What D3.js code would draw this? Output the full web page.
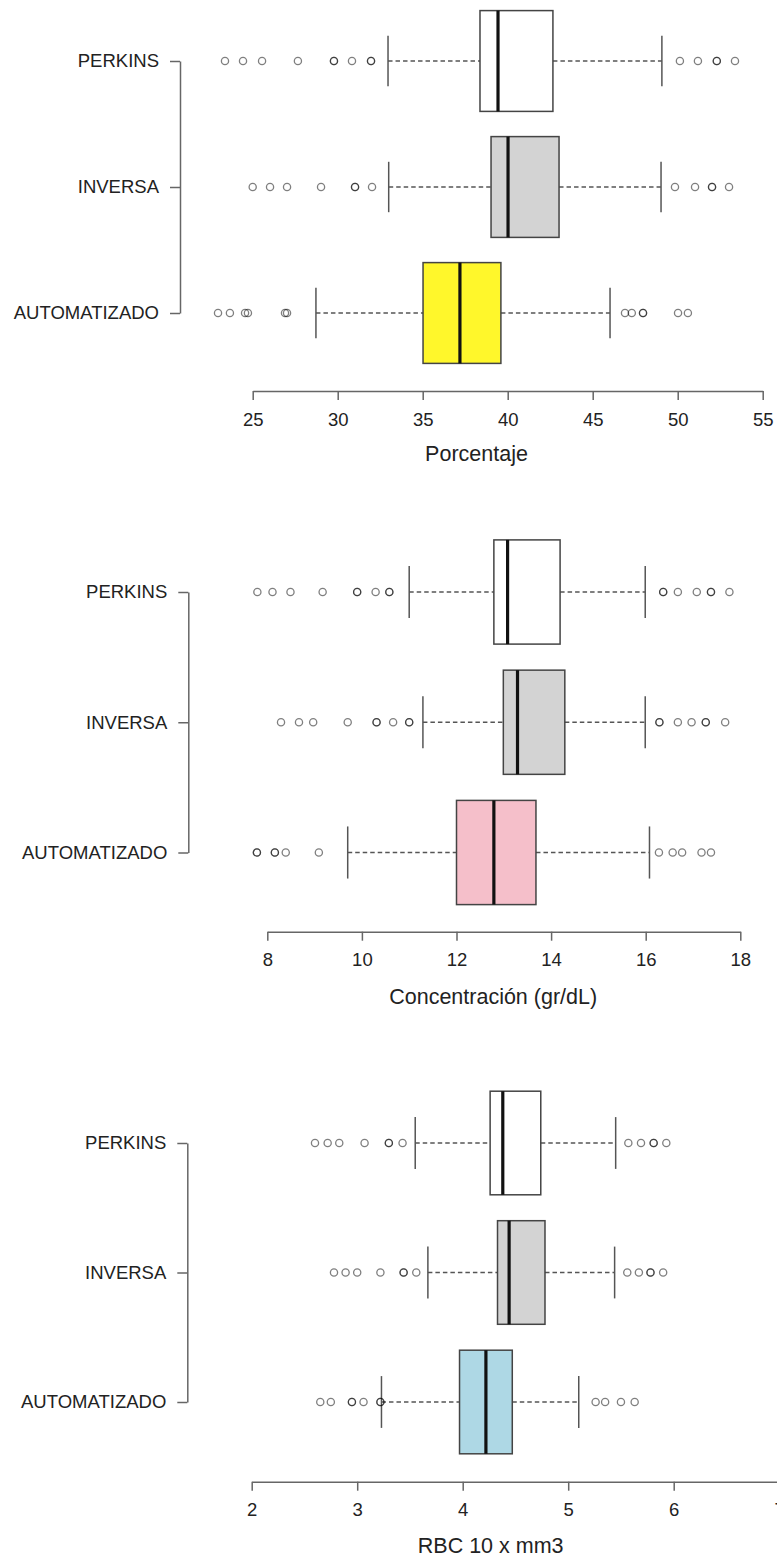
<!DOCTYPE html>
<html>
<head>
<meta charset="utf-8">
<script src="https://cdn.jsdelivr.net/npm/d3@7"></script>
<style>
  body { margin: 0; background: #fff; }
  svg text { font-family: "Liberation Sans", Arial, Helvetica, sans-serif; fill: #222; }
</style>
</head>
<body>
<svg id="chart" width="777" height="1559"></svg>
<script>
const categories = ["PERKINS", "INVERSA", "AUTOMATIZADO"];

// each row: [lower whisker, Q1, median, Q3, upper whisker]
const hctStats = [
  [32.96, 38.37, 39.43, 42.66, 49.07],
  [33.0, 39.02, 40.02, 43.02, 49.02],
  [28.72, 35.02, 37.19, 39.6, 46.02]
];
// repeated values are points drawn twice (they look darker)
const hctOutliers = [
  [23.37, 24.43, 25.55, 27.66, 29.78, 29.78, 30.84, 31.96, 31.96, 50.13, 51.19, 52.3, 52.3, 53.37],
  [25.0, 26.02, 27.02, 29.02, 31.02, 31.02, 32.02, 49.84, 51.02, 52.02, 52.02, 53.02],
  [22.96, 23.66, 24.55, 24.72, 26.9, 27.02, 46.9, 47.3, 47.96, 47.96, 50.02, 50.6]
];
const hctTicks = [25, 30, 35, 40, 45, 50, 55];

const hbStats = [
  [11.0, 12.79, 13.08, 14.19, 15.99],
  [11.29, 12.99, 13.29, 14.29, 15.99],
  [9.70, 12.0, 12.79, 13.68, 16.08]
];
const hbOutliers = [
  [7.79, 8.11, 8.49, 9.17, 9.9, 9.9, 10.29, 10.58, 10.58, 16.37, 16.37, 16.68, 17.08, 17.38, 17.38, 17.77],
  [8.29, 8.67, 8.97, 9.70, 10.31, 10.31, 10.66, 11.0, 11.0, 16.29, 16.29, 16.68, 16.97, 17.27, 17.27, 17.68],
  [7.78, 7.78, 8.16, 8.16, 8.39, 9.09, 16.28, 16.57, 16.77, 17.18, 17.38]
];
const hbTicks = [8, 10, 12, 14, 16, 18];

const rbcStats = [
  [3.55, 4.26, 4.38, 4.74, 5.45],
  [3.67, 4.33, 4.44, 4.78, 5.44],
  [3.23, 3.97, 4.22, 4.47, 5.10]
];
const rbcOutliers = [
  [2.60, 2.72, 2.83, 3.07, 3.30, 3.30, 3.43, 5.57, 5.69, 5.81, 5.81, 5.93],
  [2.78, 2.89, 3.00, 3.22, 3.44, 3.44, 3.56, 5.56, 5.67, 5.78, 5.78, 5.90],
  [2.65, 2.75, 2.95, 2.95, 3.06, 3.22, 3.22, 5.26, 5.35, 5.50, 5.63]
];
const rbcTicks = [2, 3, 4, 5, 6, 7];

const hctFills = ["#ffffff", "#d3d3d3", "#fff72b"];
const hbFills = ["#ffffff", "#d3d3d3", "#f5bfca"];
const rbcFills = ["#ffffff", "#d3d3d3", "#aed8e5"];

const panels = [
  { stats: hctStats, outliers: hctOutliers, ticks: hctTicks, fills: hctFills, title: "Porcentaje",
    xRange: [252.7, 762.7], yRange: [61, 313], axisY: 391, bracketX: 180, titleY: 460.7 },
  { stats: hbStats, outliers: hbOutliers, ticks: hbTicks, fills: hbFills, title: "Concentración (gr/dL)",
    xRange: [267.3, 740.3], yRange: [592, 852.5], axisY: 931.7, bracketX: 188.3, titleY: 1004 },
  { stats: rbcStats, outliers: rbcOutliers, ticks: rbcTicks, fills: rbcFills, title: "RBC 10 x mm3",
    xRange: [251.7, 779.2], yRange: [1143, 1402], axisY: 1481.7, bracketX: 187.3, titleY: 1552.7 }
];

const svg = d3.select("#chart");

panels.forEach(function(p) {
  const x = d3.scaleLinear()
    .domain([p.ticks[0], p.ticks[p.ticks.length - 1]])
    .range(p.xRange);
  const y = d3.scalePoint()
    .domain(categories)
    .range(p.yRange);
  const half = y.step() * 0.4;
  const capHalf = y.step() * 0.2;

  const g = svg.append("g");

  // bottom axis
  const xAxis = g.append("g")
    .attr("transform", `translate(0,${p.axisY})`)
    .call(d3.axisBottom(x).tickValues(p.ticks).tickFormat(d3.format("d"))
      .tickSize(9).tickSizeOuter(0).tickPadding(12.5));
  xAxis.selectAll("path, line").attr("stroke", "#666").attr("stroke-width", 1.5);
  xAxis.selectAll("text").style("font-size", "18.5px").attr("fill", "#222");

  // left axis (the bracket)
  const yAxis = g.append("g")
    .attr("transform", `translate(${p.bracketX},0)`)
    .call(d3.axisLeft(y).tickSize(10).tickSizeOuter(0).tickPadding(11));
  yAxis.selectAll("path, line").attr("stroke", "#666").attr("stroke-width", 1.5);
  yAxis.selectAll("text").style("font-size", "18.5px").attr("fill", "#222");

  // axis title centred on the data extent
  const all = d3.merge(p.stats.concat(p.outliers));
  g.append("text")
    .attr("x", x((d3.min(all) + d3.max(all)) / 2))
    .attr("y", p.titleY)
    .attr("text-anchor", "middle")
    .style("font-size", "21.5px")
    .text(p.title);

  const boxes = g.selectAll(".box")
    .data(categories.map(function(c, i) { return { name: c, s: p.stats[i], out: p.outliers[i], fill: p.fills[i] }; }))
    .enter().append("g")
    .attr("class", "box");

  // whiskers
  boxes.append("line")
    .attr("x1", d => x(d.s[0])).attr("x2", d => x(d.s[1]))
    .attr("y1", d => y(d.name)).attr("y2", d => y(d.name))
    .attr("stroke", "#555").attr("stroke-width", 1.4).attr("stroke-dasharray", "4.5,3");
  boxes.append("line")
    .attr("x1", d => x(d.s[3])).attr("x2", d => x(d.s[4]))
    .attr("y1", d => y(d.name)).attr("y2", d => y(d.name))
    .attr("stroke", "#555").attr("stroke-width", 1.4).attr("stroke-dasharray", "4.5,3");
  // caps
  [0, 4].forEach(function(k) {
    boxes.append("line")
      .attr("x1", d => x(d.s[k])).attr("x2", d => x(d.s[k]))
      .attr("y1", d => y(d.name) - capHalf).attr("y2", d => y(d.name) + capHalf)
      .attr("stroke", "#555").attr("stroke-width", 1.5);
  });
  // box
  boxes.append("rect")
    .attr("x", d => x(d.s[1]))
    .attr("width", d => x(d.s[3]) - x(d.s[1]))
    .attr("y", d => y(d.name) - half)
    .attr("height", half * 2)
    .attr("fill", d => d.fill)
    .attr("stroke", "#444").attr("stroke-width", 1.5);
  // median
  boxes.append("line")
    .attr("x1", d => x(d.s[2])).attr("x2", d => x(d.s[2]))
    .attr("y1", d => y(d.name) - half).attr("y2", d => y(d.name) + half)
    .attr("stroke", "#111").attr("stroke-width", 3.2);
  // outliers
  boxes.each(function(d) {
    d3.select(this).selectAll("circle")
      .data(d.out)
      .enter().append("circle")
      .attr("cx", v => x(v))
      .attr("cy", y(d.name))
      .attr("r", 3.6)
      .attr("fill", "none")
      .attr("stroke", "#000")
      .attr("stroke-opacity", 0.5)
      .attr("stroke-width", 1.3);
  });
});
</script>
</body>
</html>
